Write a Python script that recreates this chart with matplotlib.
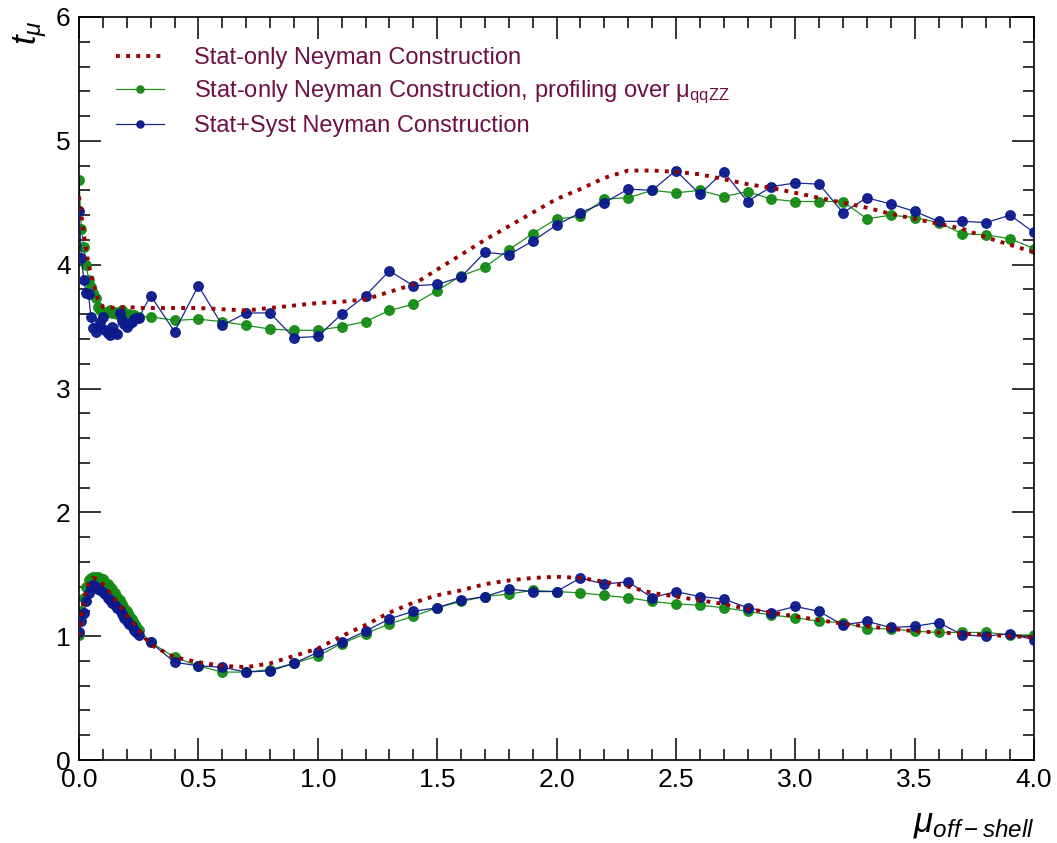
import numpy as np
import matplotlib
matplotlib.use('Agg')
import matplotlib.pyplot as plt
from matplotlib.ticker import MultipleLocator, FormatStrFormatter

plt.rcParams['font.family'] = ['Liberation Sans', 'DejaVu Sans']
plt.rcParams['mathtext.fontset'] = 'custom'
plt.rcParams['mathtext.rm'] = 'Liberation Sans'
plt.rcParams['mathtext.it'] = 'Liberation Sans:italic'

# x grids: 0.01 steps near zero, then 0.1 steps
x_fine = [0.00, 0.01, 0.02, 0.03, 0.04, 0.05, 0.06, 0.07, 0.08, 0.09, 0.10, 0.11, 0.12,
          0.13, 0.14, 0.15, 0.16, 0.17, 0.18, 0.19, 0.20, 0.21, 0.22, 0.23, 0.24, 0.25]
x_coarse = [0.3, 0.4, 0.5, 0.6, 0.7, 0.8, 0.9, 1.0, 1.1, 1.2, 1.3, 1.4, 1.5, 1.6, 1.7, 1.8,
            1.9, 2.0, 2.1, 2.2, 2.3, 2.4, 2.5, 2.6, 2.7, 2.8, 2.9, 3.0, 3.1, 3.2, 3.3, 3.4,
            3.5, 3.6, 3.7, 3.8, 3.9, 4.0]

# profiling over mu_qqZZ (green)
green_up = [4.68, 4.29, 4.14, 4.00, 3.88, 3.82, 3.77, 3.73, 3.66, 3.63, 3.62, 3.61, 3.62,
            3.63, 3.61, 3.62, 3.60, 3.61, 3.63, 3.60, 3.59, 3.60, 3.58, 3.59, 3.58, 3.58,
            3.58, 3.55, 3.56, 3.54, 3.51, 3.48, 3.47, 3.47, 3.50, 3.54, 3.63, 3.68, 3.79, 3.91,
            3.98, 4.12, 4.25, 4.37, 4.39, 4.53, 4.54, 4.60, 4.58, 4.60, 4.55, 4.59, 4.53, 4.51,
            4.51, 4.51, 4.37, 4.40, 4.38, 4.34, 4.25, 4.24, 4.21, 4.13]
green_lo = [1.01, 1.20, 1.31, 1.40, 1.45, 1.47, 1.48, 1.48, 1.48, 1.47, 1.46, 1.44, 1.42,
            1.40, 1.38, 1.35, 1.32, 1.29, 1.26, 1.23, 1.20, 1.17, 1.14, 1.11, 1.08, 1.05,
            0.95, 0.83, 0.76, 0.71, 0.71, 0.73, 0.78, 0.84, 0.94, 1.02, 1.10, 1.16, 1.23, 1.28,
            1.32, 1.34, 1.37, 1.36, 1.35, 1.33, 1.31, 1.28, 1.26, 1.25, 1.23, 1.20, 1.17, 1.15,
            1.12, 1.11, 1.06, 1.06, 1.04, 1.03, 1.03, 1.03, 1.01, 1.01]

# stat+syst (blue)
blue_up = [4.43, 4.05, 3.88, 3.77, 3.76, 3.58, 3.49, 3.46, 3.50, 3.54, 3.58, 3.47, 3.45,
           3.43, 3.50, 3.45, 3.44, 3.61, 3.55, 3.52, 3.50, 3.52, 3.54, 3.56, 3.57, 3.57,
           3.75, 3.46, 3.83, 3.51, 3.61, 3.61, 3.41, 3.42, 3.60, 3.75, 3.95, 3.83, 3.84, 3.90,
           4.10, 4.08, 4.19, 4.32, 4.42, 4.50, 4.61, 4.60, 4.76, 4.57, 4.75, 4.51, 4.63, 4.66,
           4.65, 4.42, 4.54, 4.49, 4.43, 4.35, 4.35, 4.34, 4.40, 4.26]
blue_lo = [1.03, 1.12, 1.19, 1.28, 1.35, 1.40, 1.41, 1.40, 1.38, 1.37, 1.36, 1.34, 1.31,
           1.29, 1.27, 1.25, 1.23, 1.21, 1.18, 1.15, 1.12, 1.10, 1.08, 1.05, 1.03, 1.01,
           0.95, 0.79, 0.76, 0.75, 0.71, 0.72, 0.78, 0.87, 0.95, 1.04, 1.14, 1.20, 1.23, 1.29,
           1.32, 1.38, 1.36, 1.36, 1.47, 1.42, 1.44, 1.31, 1.36, 1.32, 1.30, 1.23, 1.19, 1.24,
           1.20, 1.09, 1.12, 1.07, 1.08, 1.11, 1.01, 1.00, 1.02, 0.97]

# stat-only (red dotted curve)
x_red = [0.00, 0.02, 0.04, 0.06, 0.08, 0.10, 0.15, 0.20, 0.25] + x_coarse
red_up = [4.55, 4.25, 4.00, 3.85, 3.72, 3.66, 3.65, 3.66, 3.65,
          3.65, 3.65, 3.65, 3.64, 3.63, 3.65, 3.67, 3.69, 3.70, 3.72, 3.78, 3.84, 3.96, 4.08,
          4.20, 4.31, 4.42, 4.53, 4.61, 4.70, 4.76, 4.76, 4.75, 4.73, 4.69, 4.65, 4.62, 4.58,
          4.54, 4.50, 4.46, 4.41, 4.37, 4.33, 4.29, 4.22, 4.16, 4.10]
red_lo = [1.00, 1.30, 1.43, 1.47, 1.46, 1.42, 1.30, 1.17, 1.05,
          0.93, 0.83, 0.79, 0.76, 0.75, 0.78, 0.84, 0.90, 1.00, 1.09, 1.19, 1.27, 1.33, 1.37,
          1.42, 1.45, 1.47, 1.48, 1.47, 1.44, 1.40, 1.35, 1.32, 1.29, 1.26, 1.22, 1.19, 1.16,
          1.13, 1.10, 1.08, 1.06, 1.04, 1.03, 1.02, 1.01, 1.00, 0.99]

labels = ['Stat-only Neyman Construction',
          r'Stat-only Neyman Construction, profiling over $\mathrm{\mu_{qqZZ}}$',
          'Stat+Syst Neyman Construction']

RED = '#990000'
GREEN = '#148a14'
BLUE = '#0b1a8c'
TXT = '#6e0f45'

x_all = x_fine + x_coarse

fig = plt.figure(figsize=(10.57, 8.43), dpi=100)
ax = fig.add_axes([79 / 1057, 83 / 843, 955 / 1057, 743 / 843])

dots = (0, (1, 1.6))
for i, yr in enumerate([red_up, red_lo]):
    ax.plot(x_red, yr, color=RED, lw=2.8, ls=dots, dash_capstyle='butt',
            label=labels[0] if i == 0 else None, zorder=4)
for i, yg in enumerate([green_up, green_lo]):
    ax.plot(x_all, yg, color=GREEN, lw=0.9, marker='o', ms=6.8, mfc=GREEN, mec=GREEN,
            alpha=0.95, label=labels[1] if i == 0 else None, zorder=2)
for i, yb in enumerate([blue_up, blue_lo]):
    ax.plot(x_all, yb, color=BLUE, lw=0.9, marker='o', ms=6.8, mfc=BLUE, mec=BLUE,
            alpha=0.95, label=labels[2] if i == 0 else None, zorder=3)

ax.set_xlim(0, 4)
ax.set_ylim(0, 6)
ax.xaxis.set_major_locator(MultipleLocator(0.5))
ax.xaxis.set_minor_locator(MultipleLocator(0.1))
ax.yaxis.set_major_locator(MultipleLocator(1))
ax.yaxis.set_minor_locator(MultipleLocator(0.2))
ax.xaxis.set_major_formatter(FormatStrFormatter('%.1f'))
ax.tick_params(which='both', direction='in', top=True, right=True, width=1.1,
               labelsize=19, pad=6)
ax.tick_params(which='major', length=16)
ax.tick_params(which='minor', length=8)
for s in ax.spines.values():
    s.set_linewidth(1.2)

leg = ax.legend(loc='upper left', bbox_to_anchor=(0.029, 0.972), frameon=False,
                fontsize=17, labelcolor=TXT, handlelength=2.03, handletextpad=1.27,
                labelspacing=0.39, borderaxespad=0, markerscale=0.75)

fig.text(1035 / 1057, 0.004, r'$\mu_{off-shell}$', fontsize=25, ha='right', va='bottom')
fig.text(30 / 1057, 1 - 20 / 843, r'$t_{\mu}$', fontsize=25, rotation=90,
         ha='center', va='top')

fig.savefig('out.png', dpi=100)
